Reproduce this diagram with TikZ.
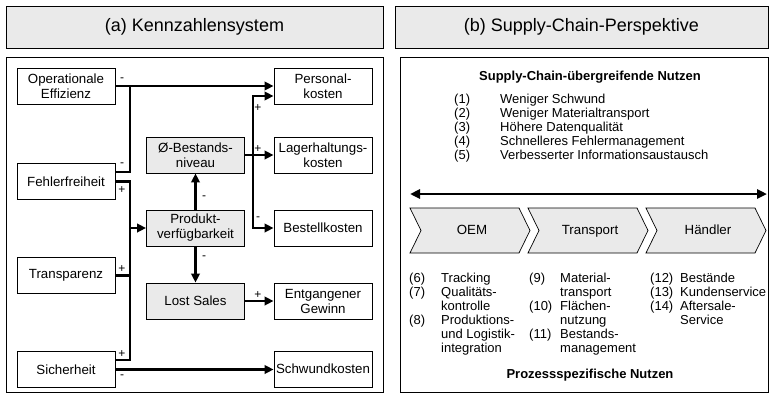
\documentclass[tikz,border=0pt]{standalone}
\usepackage{fontspec}
\setmainfont{Liberation Sans}
\usetikzlibrary{arrows.meta}
\definecolor{boxgray}{HTML}{EAEAEA}
\begin{document}
\begin{tikzpicture}[x=1pt,y=-1pt,
  txt/.style={font=\fontsize{13.3}{15}\selectfont},
  box/.style={txt,draw,line width=0.9pt,minimum width=98pt,minimum height=36pt,
    align=center,inner sep=0pt},
  gbox/.style={box,fill=boxgray},
  head/.style={draw,line width=0.9pt,fill=boxgray,minimum height=42pt,inner sep=0pt,
    font=\fontsize{18}{20}\selectfont},
  link/.style={line width=2.5pt},
  arr/.style={link,-{Triangle[length=9pt,width=8.5pt]}},
  sign/.style={font=\fontsize{12}{12}\selectfont,inner sep=0pt},
  frame/.style={draw,line width=0.9pt},
  chev/.style={draw,line width=0.7pt,fill=boxgray},
  chevlabel/.style={txt,inner sep=0pt,text height=9.6pt,text depth=2.8pt},
  list/.style={txt,inner sep=0pt,align=left}]
\useasboundingbox (0,0) rectangle (774,397);

% ---------- (a) Kennzahlensystem ----------
\node[head,minimum width=377pt] (ta) at (194.5,27) {(a) Kennzahlensystem};
\draw[frame] (6,57) rectangle (383,392);

\node[box]  (op) at (66,86)    {Operationale\\Effizienz};
\node[box]  (fe) at (66,181.5) {Fehlerfreiheit};
\node[box]  (tr) at (66,275.5) {Transparenz};
\node[box]  (si) at (66,369.5) {Sicherheit};

\node[gbox] (bn) at (195.5,155) {Ø-Bestands-\\niveau};
\node[gbox] (pv) at (195.5,228) {Produkt-\\verfügbarkeit};
\node[gbox] (ls) at (195.5,301) {Lost Sales};

\node[box]  (pk) at (323,86.5) {Personal-\\kosten};
\node[box]  (lk) at (323,155.5) {Lagerhaltungs-\\kosten};
\node[box]  (bk) at (323,228)  {Bestellkosten};
\node[box]  (eg) at (323,301)  {Entgangener\\Gewinn};
\node[box]  (sk) at (323,369)  {Schwundkosten};

% junctions and side ports
\coordinate (trunk) at (130,228);
\coordinate (split) at (253,155);
\coordinate (feM) at ([yshift=9.5pt]fe.east);
\coordinate (siP) at ([yshift=9.5pt]si.east);
\coordinate (pkB) at ([yshift=-9.5pt]pk.west);

\draw[arr]  (op.east) -- (op.east -| pk.west);
\draw[link] (feM) -| (trunk |- op.east);
\draw[link] (fe.east) -| (trunk |- siP) -- (siP);
\draw[link] (tr.east) -- (trunk |- tr.east);
\draw[arr]  (trunk) -- (pv.west);
\draw[arr]  (si.east) -- (si.east -| sk.west);

\draw[arr]  (pv.north) -- (bn.south);
\draw[arr]  (pv.south) -- (ls.north);
\draw[arr]  (ls.east) -- (eg.west);
\draw[arr]  (bn.east) -- (bn.east -| lk.west);
\draw[arr]  (split) |- (pkB);
\draw[arr]  (split) |- (bk.west);

\node[sign] (s1)  at (122,80)  {-};
\node[sign] (s2)  at (122,165) {-};
\node[sign] (s3)  at (122,190) {+};
\node[sign] (s4)  at (122,269) {+};
\node[sign] (s5)  at (122,354) {+};
\node[sign] (s6)  at (122,377) {-};
\node[sign] (s7)  at (204,198) {-};
\node[sign] (s8)  at (204,258) {-};
\node[sign] (s9)  at (258,108) {+};
\node[sign] (s10) at (258,149) {+};
\node[sign] (s11) at (258,219) {-};
\node[sign] (s12) at (258,295) {+};

% ---------- (b) Supply-Chain-Perspektive ----------
\node[head,minimum width=373pt] (tb) at (581.5,27) {(b) Supply-Chain-Perspektive};
\draw[frame] (400,57) rectangle (768,392);

\node[txt,font=\fontsize{13}{15}\bfseries] (hu) at (590,77) {Supply-Chain-übergreifende Nutzen};
\node[list,anchor=north west] (lu) at (454,93) {%
  \renewcommand\arraystretch{1}\fontsize{13}{14}\selectfont
  \begin{tabular}{@{}p{46pt}@{}l@{}}
  (1) & Weniger Schwund\\
  (2) & Weniger Materialtransport\\
  (3) & Höhere Datenqualität\\
  (4) & Schnelleres Fehlermanagement\\
  (5) & Verbesserter Informationsaustausch
  \end{tabular}};

\coordinate (aL) at (410,194);
\coordinate (aR) at (767,194);
\draw[link,{Triangle[length=10pt,width=9pt]}-{Triangle[length=10pt,width=9pt]}] (aL) -- (aR);

\foreach \L/\lab/\nm in {410/OEM/c1,528/Transport/c2,646/Händler/c3}{
  \draw[chev] (\L,208) -- (\L+109,208) -- (\L+120,230.5) -- (\L+109,253)
    -- (\L,253) -- (\L+11,230.5) -- cycle;
  \node[chevlabel] (\nm) at (\L+62,231) {\lab};
}

\node[list,anchor=north west] (l1) at (409,272) {%
  \renewcommand\arraystretch{1}\fontsize{13}{14}\selectfont
  \begin{tabular}{@{}p{32pt}@{}l@{}}
  (6) & Tracking\\
  (7) & Qualitäts-\\
      & kontrolle\\
  (8) & Produktions-\\
      & und Logistik-\\
      & integration
  \end{tabular}};
\node[list,anchor=north west] (l2) at (529,272) {%
  \renewcommand\arraystretch{1}\fontsize{13}{14}\selectfont
  \begin{tabular}{@{}p{31pt}@{}l@{}}
  (9)  & Material-\\
       & transport\\
  (10) & Flächen-\\
       & nutzung\\
  (11) & Bestands-\\
       & management
  \end{tabular}};
\node[list,anchor=north west] (l3) at (650,272) {%
  \renewcommand\arraystretch{1}\fontsize{13}{14}\selectfont
  \begin{tabular}{@{}p{30pt}@{}l@{}}
  (12) & Bestände\\
  (13) & Kundenservice\\
  (14) & Aftersale-\\
       & Service
  \end{tabular}};

\node[txt,font=\fontsize{13}{15}\bfseries] (hp) at (590,375) {Prozessspezifische Nutzen};
\end{tikzpicture}
\end{document}
